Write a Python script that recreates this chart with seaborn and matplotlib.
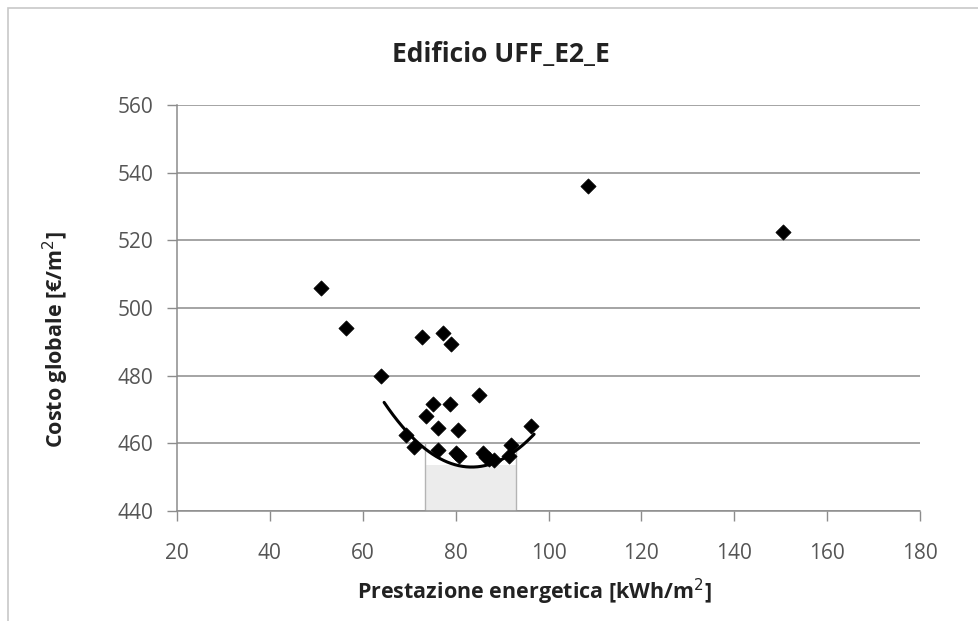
import numpy as np
import pandas as pd
import matplotlib
matplotlib.use("Agg")
import matplotlib.pyplot as plt
import seaborn as sns
from matplotlib.patches import Rectangle

# Energy performance [kWh/m2] and global cost [EUR/m2] of each design variant
prestazione = [51.1, 56.5, 64.0, 72.8, 77.2, 78.9, 85.1, 75.1, 78.7, 73.6,
               76.2, 80.5, 96.2, 69.4, 71.1, 76.2, 80.1, 80.8, 85.8, 87.2,
               88.3, 91.9, 91.5, 86.5, 108.4, 150.5]
costo = [506.0, 494.0, 480.0, 491.5, 492.5, 489.5, 474.2, 471.5, 471.5, 468.0,
         464.5, 464.0, 465.0, 462.5, 459.0, 458.0, 457.0, 456.3, 457.0, 455.5,
         455.0, 459.5, 456.3, 456.0, 536.0, 522.5]

# Anchor points of the cost-optimal trend curve (second-order polynomial)
curva_x = [64.6, 84.0, 96.9]
curva_y = [472.1, 453.0, 462.7]

# Cost-optimal range: energy performance bounds and band height
range_ottimale = [73.4, 93.0]
banda_costo = [440.0, 453.5]
banda_bordo = 460.0

x_ticks = [20, 40, 60, 80, 100, 120, 140, 160, 180]
y_ticks = [440, 460, 480, 500, 520, 540, 560]

sns.set_theme(style="white")
plt.rcParams["font.family"] = ["Open Sans", "DejaVu Sans"]

W, H = 979, 621
fig = plt.figure(figsize=(W / 100, H / 100), dpi=100)
ax = fig.add_axes([177 / W, 1 - 511 / H, (920 - 177) / W, (511 - 105) / H])

df = pd.DataFrame({"prestazione": prestazione, "costo": costo})

coef = np.polyfit(curva_x, curva_y, 2)
xc = np.linspace(curva_x[0], curva_x[-1], 200)
yc = np.polyval(coef, xc)

# shaded optimal band
ax.fill_between(range_ottimale, banda_costo[0], banda_costo[1],
                color="#ececec", edgecolor="none", zorder=1)
ax.vlines(range_ottimale, banda_costo[0], banda_bordo, color="#b4b4b4",
          lw=1.0, zorder=1.5)

sns.scatterplot(data=df, x="prestazione", y="costo", marker="D", s=60,
                color="black", edgecolor="black", linewidth=0.5, ax=ax, zorder=4)
ax.plot(xc, yc, color="black", lw=2.2, zorder=3)

ax.set_xlim(20, 180)
ax.set_ylim(440, 560)
ax.set_xticks(x_ticks)
ax.set_yticks(y_ticks)
ax.yaxis.grid(True, color="#8c8c8c", lw=1.1, zorder=0)
ax.xaxis.grid(False)
ax.set_axisbelow(True)

for s in ["top", "right"]:
    ax.spines[s].set_visible(False)
for s in ["left", "bottom"]:
    ax.spines[s].set_color("#8c8c8c")
    ax.spines[s].set_linewidth(1.1)

ax.tick_params(axis="both", which="major", direction="out", length=7, width=1.0,
               color="#8c8c8c", labelsize=15, labelcolor="#555555")
ax.tick_params(axis="x", bottom=True, pad=16)
ax.tick_params(axis="y", left=True, pad=10)

ax.set_xlabel("Prestazione energetica [kWh/m$^2$]", fontsize=15.5, fontweight="bold",
              color="#222222")
ax.set_ylabel("Costo globale [€/m$^2$]", fontsize=15.5, fontweight="bold",
              color="#222222")
ax.xaxis.set_label_coords((534 - 177) / 743, -(592 - 511) / 406)
ax.xaxis.label.set_va("center")
ax.yaxis.set_label_coords((56 - 177) / 743, (511 - 340) / 406)
ax.yaxis.label.set_va("center")

fig.text(501 / W, 1 - 54 / H, "Edificio UFF_E2_E",
         ha="center", va="center", fontsize=19, fontweight="bold", color="#222222")

# outer chart frame
fig.patches.append(Rectangle((8 / W, -0.01), 1.2, 1 - 8 / H + 0.01,
                             transform=fig.transFigure, fill=False,
                             edgecolor="#c8c8c8", lw=1.2))

fig.savefig("out.png", dpi=100)
